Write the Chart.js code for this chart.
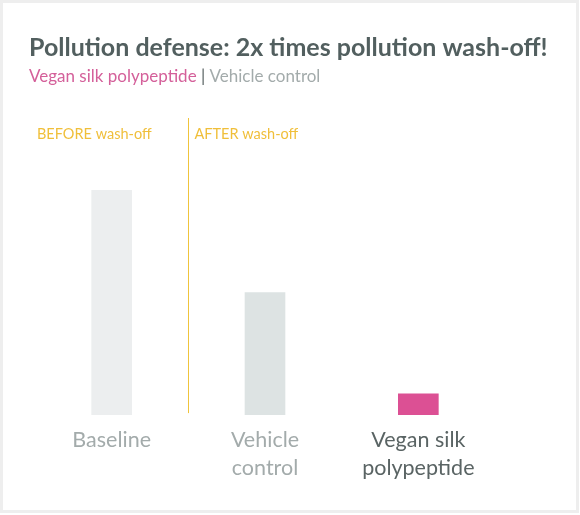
<!DOCTYPE html>
<html>
<head>
<meta charset="utf-8">
<script src="https://cdn.jsdelivr.net/npm/chart.js@4/dist/chart.umd.min.js"></script>
<style>
    body { margin: 0; background: #fff; }
    #wrap { width: 580px; height: 515px; }
</style>
</head>
<body>
<div id="wrap"><canvas id="washChart" width="580" height="515"></canvas></div>
<script>
// chart data
var categories = [["Baseline"], ["Vehicle", "control"], ["Vegan silk", "polypeptide"]];
var pollutionLeft = [100, 54.5, 9.5];
var barColors = ["#eceeef", "#dde3e3", "#dc5094"];
var labelColors = ["#a3abab", "#a3abab", "#5a6464"];

var FONT = "Lato, 'Open Sans', sans-serif";

// draws the frame, headings and the before/after divider
var decorPlugin = {
    id: 'decor',
    beforeDraw: function(chart) {
        var ctx = chart.ctx;
        ctx.save();
        ctx.fillStyle = "#ffffff";
        ctx.fillRect(0, 0, chart.width, chart.height);
        ctx.strokeStyle = "#eeeeee";
        ctx.lineWidth = 3;
        ctx.strokeRect(1.5, 1.5, chart.width - 4, chart.height - 5);
        ctx.restore();
    },
    afterDraw: function(chart) {
        var ctx = chart.ctx;
        var x = chart.scales.x;
        ctx.save();
        ctx.textBaseline = "alphabetic";
        ctx.textAlign = "left";

        // title
        ctx.fillStyle = "#525f5f";
        ctx.font = "bold 25px " + FONT;
        ctx.fillText("Pollution defense: 2x times pollution wash-off!", 29, 56);

        // subtitle in three colours
        ctx.font = "17px " + FONT;
        var sx = 29;
        var parts = [["Vegan silk polypeptide", "#d4609a"], [" | ", "#5a6464"], ["Vehicle control", "#a3abab"]];
        parts.forEach(function(p) {
            ctx.fillStyle = p[1];
            ctx.fillText(p[0], sx, 82);
            sx += ctx.measureText(p[0]).width;
        });

        // divider between baseline and the after bars
        var lineX = Math.round((x.getPixelForValue(0) + x.getPixelForValue(1)) / 2) + 0.5;
        ctx.strokeStyle = "#f0c43c";
        ctx.lineWidth = 1;
        ctx.beginPath();
        ctx.moveTo(lineX, 118);
        ctx.lineTo(lineX, chart.chartArea.bottom - 2);
        ctx.stroke();

        ctx.fillStyle = "#f0bf3a";
        ctx.font = "14.5px " + FONT;
        ctx.fillText("BEFORE wash-off", 37, 139);
        ctx.fillText("AFTER wash-off", lineX + 6, 139);
        ctx.restore();
    }
};

var washChart = new Chart(document.getElementById("washChart"), {
    type: 'bar',
    data: {
        labels: categories,
        datasets: [{
            data: pollutionLeft,
            backgroundColor: barColors,
            borderWidth: 0,
            barThickness: 40
        }]
    },
    options: {
        responsive: false,
        animation: false,
        layout: {
            padding: { top: 123, left: 35, right: 85, bottom: 30 }
        },
        plugins: {
            legend: { display: false },
            tooltip: { enabled: false }
        },
        scales: {
            y: {
                display: false,
                min: 0,
                max: 130
            },
            x: {
                grid: { display: false },
                border: { display: false },
                ticks: {
                    padding: 3,
                    maxRotation: 0,
                    autoSkip: false,
                    color: function(c) { return labelColors[c.index]; },
                    font: { family: FONT, size: 21.5, lineHeight: 1.3 }
                }
            }
        }
    },
    plugins: [decorPlugin]
});
</script>
</body>
</html>
